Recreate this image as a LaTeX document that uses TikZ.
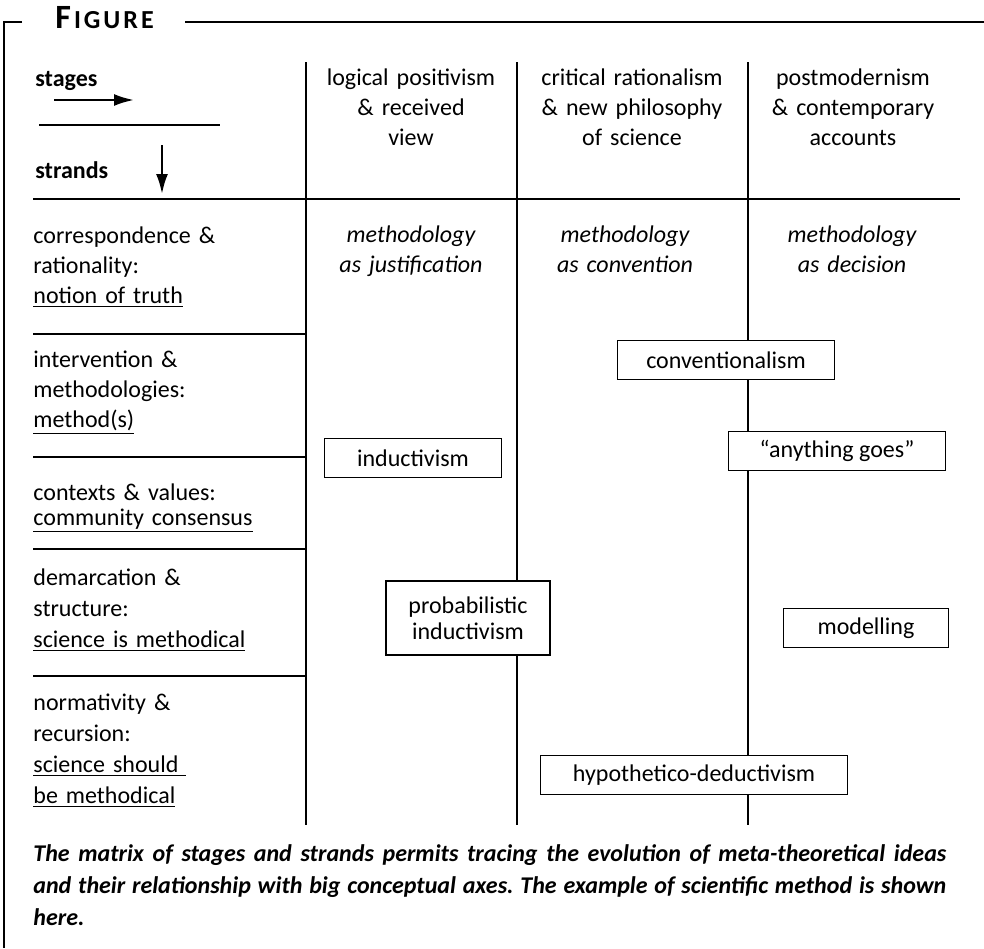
\documentclass[tikz,border=0pt]{standalone}
\usepackage{fontspec}
\setmainfont{Carlito}
\usepackage{tikz}
\usetikzlibrary{arrows.meta}
\usetikzlibrary{positioning}
\tikzset{
  % pixel-like units, y grows downwards
  px/.style={x=0.5pt,y=-0.5pt},
  % rules of the table and the frame
  rule/.style={line width=0.8pt},
  % text in the strand column
  strand/.style={anchor=base west,inner sep=0pt,text width=135pt,align=left,
    font=\fontsize{12}{15}\selectfont},
  % text in the stage columns
  stagehead/.style={anchor=base,inner sep=0pt,text width=105pt,align=center,
    font=\fontsize{12}{15}\selectfont},
  methodnote/.style={stagehead,font=\fontsize{12}{15}\selectfont\itshape},
  % boxed accounts of method
  account/.style={draw,line width=0.8pt,fill=white,inner sep=0pt,
    minimum height=19.5pt,align=center,font=\fontsize{12}{13}\selectfont},
  axisarrow/.style={-{Latex[length=10pt,width=6pt]},line width=1.2pt},
}
\begin{document}
\begin{tikzpicture}[px]
  \useasboundingbox (0,0) rectangle (984,948);

  % frame with its heading
  \node[anchor=base west,inner sep=0pt,font=\bfseries] (fighead) at (55,28)
    {{\fontsize{17}{17}\selectfont F}\kern1.5pt{\fontsize{13}{13}\selectfont
     I\kern1.5pt G\kern1.5pt U\kern1.5pt R\kern1.5pt E}};
  \draw[rule] (22,22) -- (4,22) -- (4,948);
  \draw[rule] (185,22) -- (984,22);

  % corner of the table
  \node[strand,font=\fontsize{12}{15}\selectfont\bfseries] (stages) at (35,86) {stages};
  \node[strand,font=\fontsize{12}{15}\selectfont\bfseries] (strands) at (35,178) {strands};
  \coordinate (stagesfrom) at (54,100);
  \coordinate (stagesto) at (134,100);
  \coordinate (strandsfrom) at (162,145);
  \coordinate (strandsto) at (162,194);
  \draw[axisarrow] (stagesfrom) -- (stagesto);
  \draw[axisarrow] (strandsfrom) -- (strandsto);
  \draw[rule] (39,125) -- (220,125);

  % stages
  \node[stagehead] (positivism) at (411,85)
    {logical positivism\\ \& received\\ view};
  \node[stagehead] (rationalism) at (632,85)
    {critical rationalism\\ \& new philosophy\\ of science};
  \node[stagehead] (postmodern) at (853,85)
    {postmodernism\\ \& contemporary\\ accounts};

  % strands
  \node[strand] (truth) at (33,243)
    {correspondence \&\\ rationality:\\ \underline{notion of truth}};
  \node[strand] (methods) at (33,367)
    {intervention \&\\ methodologies:\\ \underline{method(s)}};
  \node[strand,font=\fontsize{12}{12.5}\selectfont] (consensus) at (33,500)
    {contexts \& values:\\ \underline{community consensus}};
  \node[strand,font=\fontsize{12}{15.5}\selectfont] (demarcation) at (33,585)
    {demarcation \&\\ structure:\\ \underline{science is methodical}};
  \node[strand,font=\fontsize{12}{15.5}\selectfont] (normativity) at (33,710)
    {normativity \&\\ recursion:\\ \underline{science should\ }\\ \underline{be methodical}};

  % rules
  \foreach \x in {306,517,748}
    \draw[rule] (\x,62) -- (\x,825);
  \draw[rule] (33,199) -- (960,199);
  \foreach \y in {334,457,549,676}
    \draw[rule] (33,\y) -- (306,\y);

  % methodology in each stage
  \node[methodnote] (justification) at (411,242) {methodology\\ as justification};
  \node[methodnote] (convention) at (625,242) {methodology\\ as convention};
  \node[methodnote] (decision) at (852,242) {methodology\\ as decision};

  % accounts of method
  \node[account,minimum width=108.5pt] (conventionalism) at (726,360) {conventionalism};
  \node[account,minimum width=108.5pt] (anything) at (837,451) {``anything goes''};
  \node[account,minimum width=88.5pt] (inductivism) at (413,458) {inductivism};
  \node[account,minimum width=82pt,minimum height=37pt] (probabilistic) at (468,618)
    {probabilistic\\ inductivism};
  \node[account,minimum width=82.5pt] (modelling) at (866,628) {modelling};
  \node[account,minimum width=153.5pt] (hypothetico) at (694,775) {hypothetico-deductivism};

  % caption
  \node[anchor=base west,inner sep=0pt,text width=456.5pt,align=justify,
    font=\fontsize{12}{16}\selectfont\bfseries\itshape\frenchspacing] (caption) at (33,861)
    {The matrix of stages and strands permits tracing the evolution of meta-theoretical ideas\linebreak
     and their relationship with big conceptual axes. The example of scientific method is shown\linebreak
     here.};
\end{tikzpicture}
\end{document}
